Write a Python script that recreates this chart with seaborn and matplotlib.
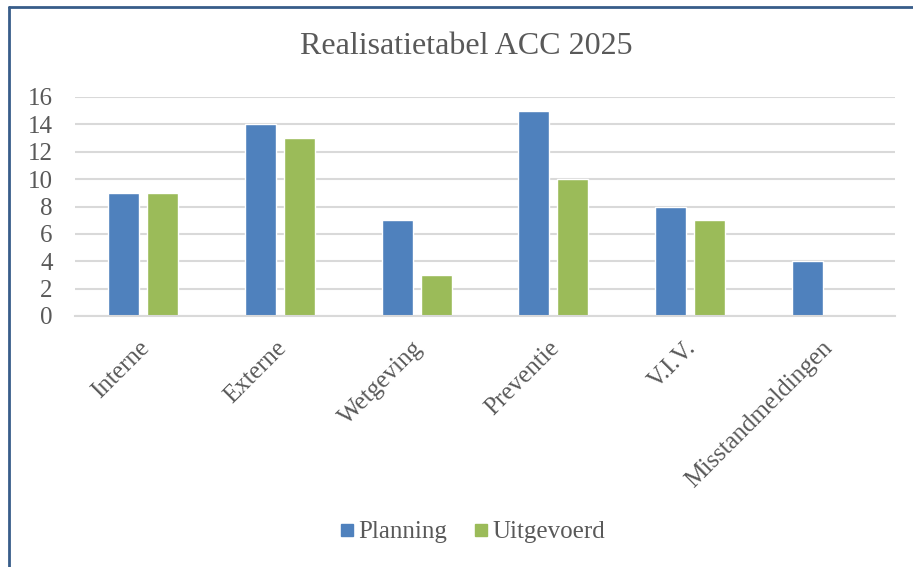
import pandas as pd
import seaborn as sns
import matplotlib.pyplot as plt
import matplotlib.transforms as mtransforms
from matplotlib.lines import Line2D

# Data
categories = ["Interne", "Externe", "Wetgeving", "Preventie", "V.I.V.", "Misstandmeldingen"]
planning = [9, 14, 7, 15, 8, 4]
uitgevoerd = [9, 13, 3, 10, 7, 0]
series_names = ["Planning", "Uitgevoerd"]
colors = ["#4F81BD", "#9BBB59"]

df = pd.DataFrame({
    "categorie": categories * 2,
    "serie": [series_names[0]] * len(categories) + [series_names[1]] * len(categories),
    "waarde": planning + uitgevoerd,
})

sns.set_theme(style="white")
plt.rcParams["font.family"] = ["Liberation Serif", "DejaVu Serif"]

fig = plt.figure(figsize=(9.13, 5.67), dpi=100)
ax = fig.add_axes([75 / 913, 1 - 316 / 567, 820 / 913, 219 / 567])

sns.barplot(data=df, x="categorie", y="waarde", hue="serie", palette=colors,
            width=0.57, gap=0.2, ax=ax, legend=False, saturation=1)

ax.set_ylim(0, 16)
ax.set_yticks(range(0, 17, 2))
ax.set_xlim(-0.5, len(categories) - 0.5)
ax.set_xlabel("")
ax.set_ylabel("")
ax.grid(axis="y", color="#D9D9D9", linewidth=1.5)
ax.set_axisbelow(True)
for s in ["top", "right", "left"]:
    ax.spines[s].set_visible(False)
ax.spines["bottom"].set_color("#D9D9D9")
ax.spines["bottom"].set_linewidth(1.5)
ax.tick_params(axis="both", length=0, colors="#595959", labelsize=18)
ax.tick_params(axis="y", pad=16)
ax.tick_params(axis="x", pad=15)
shift = mtransforms.ScaledTranslation(-5 / 100, 0, fig.dpi_scale_trans)
for lbl in ax.get_xticklabels():
    lbl.set_rotation(45)
    lbl.set_ha("right")
    lbl.set_rotation_mode("anchor")
    lbl.set_transform(lbl.get_transform() + shift)

fig.text(0.511, 1 - 46 / 567, "Realisatietabel ACC 2025", ha="center", va="center",
         fontsize=23, color="#595959")

handles = [Line2D([], [], marker="s", linestyle="", color=c, markersize=9) for c in colors]
fig.legend(handles, series_names, loc="center", bbox_to_anchor=(0.517, 1 - 532 / 567),
           ncol=2, frameon=False, fontsize=18, labelcolor="#595959",
           handlelength=0.7, handletextpad=0.1, columnspacing=1.0)

# frame lines visible at the top and left edge
fig.add_artist(Line2D([9 / 913, 9 / 913], [0, 1 - 7 / 567], transform=fig.transFigure,
                      color="#385D8A", linewidth=2))
fig.add_artist(Line2D([9 / 913, 1], [1 - 7 / 567, 1 - 7 / 567], transform=fig.transFigure,
                      color="#385D8A", linewidth=2))

fig.savefig("out.png", dpi=100)
